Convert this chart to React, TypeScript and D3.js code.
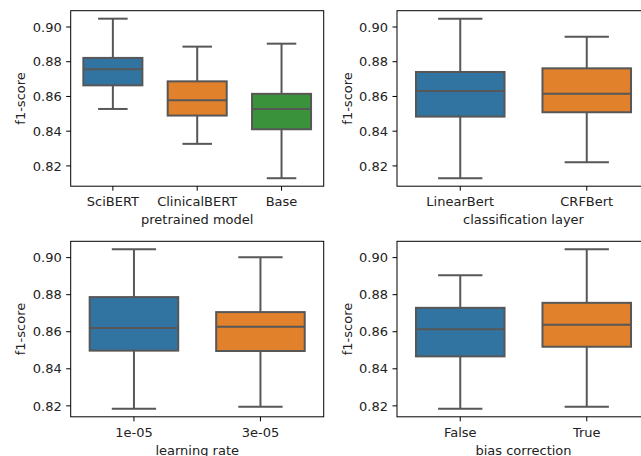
import React, { useEffect, useRef } from "react";
import * as d3 from "d3";

// five-number summaries: [lower whisker, Q1, median, Q3, upper whisker]
const modelNames = ["SciBERT", "ClinicalBERT", "Base"];
const modelStats = [
  [0.8528, 0.8664, 0.8756, 0.8822, 0.9048],
  [0.8327, 0.849, 0.8578, 0.8687, 0.8887],
  [0.8129, 0.8411, 0.8528, 0.8615, 0.8904],
];

const layerNames = ["LinearBert", "CRFBert"];
const layerStats = [
  [0.8129, 0.8484, 0.8632, 0.8741, 0.9048],
  [0.8221, 0.8509, 0.8616, 0.8762, 0.8944],
];

const lrNames = ["1e-05", "3e-05"];
const lrStats = [
  [0.8184, 0.8498, 0.862, 0.8787, 0.9045],
  [0.8195, 0.8496, 0.8627, 0.8706, 0.9002],
];

const biasNames = ["False", "True"];
const biasStats = [
  [0.8184, 0.8467, 0.8613, 0.8729, 0.8905],
  [0.8195, 0.8519, 0.8638, 0.8756, 0.9045],
];

const yTicks = [0.82, 0.84, 0.86, 0.88, 0.9];
const palette = ["#3274a1", "#e1812c", "#3a923a"];

const panels = [
  { names: modelNames, stats: modelStats, xlabel: "pretrained model", left: 70.7, top: 10.7 },
  { names: layerNames, stats: layerStats, xlabel: "classification layer", left: 397, top: 10.7 },
  { names: lrNames, stats: lrStats, xlabel: "learning rate", left: 70.7, top: 241.3 },
  { names: biasNames, stats: biasStats, xlabel: "bias correction", left: 397, top: 241.3 },
];

const App = () => {
  const ref = useRef<SVGSVGElement>(null);

  useEffect(() => {
    const svg = d3.select(ref.current);
    svg.selectAll("*").remove();

    const panelW = 253;
    const panelH = 175.5;
    const lineGray = "#575757";
    const font = "DejaVu Sans, sans-serif";

    // top row and bottom row share a y range
    const rowDomain = (a: number[][], b: number[][]) => {
      const lo = d3.min([...a, ...b], (s) => s[0]) as number;
      const hi = d3.max([...a, ...b], (s) => s[4]) as number;
      const pad = (hi - lo) * 0.05;
      return [lo - pad, hi + pad];
    };
    const topDomain = rowDomain(modelStats, layerStats);
    const bottomDomain = rowDomain(lrStats, biasStats);

    panels.forEach((p, pi) => {
      const g = svg.append("g").attr("transform", `translate(${p.left},${p.top})`);

      const x = d3.scaleBand().domain(p.names).range([0, panelW]).padding(0);
      const y = d3
        .scaleLinear()
        .domain(pi < 2 ? topDomain : bottomDomain)
        .range([panelH, 0]);

      const boxW = x.bandwidth() * 0.7;
      const capW = boxW / 2;

      p.names.forEach((name, i) => {
        const [lo, q1, med, q3, hi] = p.stats[i];
        const cx = (x(name) as number) + x.bandwidth() / 2;

        // whiskers
        g.append("line")
          .attr("x1", cx).attr("x2", cx)
          .attr("y1", y(lo)).attr("y2", y(q1))
          .attr("stroke", lineGray).attr("stroke-width", 2);
        g.append("line")
          .attr("x1", cx).attr("x2", cx)
          .attr("y1", y(q3)).attr("y2", y(hi))
          .attr("stroke", lineGray).attr("stroke-width", 2);
        // caps
        [lo, hi].forEach((v) => {
          g.append("line")
            .attr("x1", cx - capW / 2).attr("x2", cx + capW / 2)
            .attr("y1", y(v)).attr("y2", y(v))
            .attr("stroke", lineGray).attr("stroke-width", 2);
        });
        // box
        g.append("rect")
          .attr("x", cx - boxW / 2)
          .attr("y", y(q3))
          .attr("width", boxW)
          .attr("height", y(q1) - y(q3))
          .attr("fill", palette[i])
          .attr("stroke", lineGray)
          .attr("stroke-width", 2);
        // median
        g.append("line")
          .attr("x1", cx - boxW / 2).attr("x2", cx + boxW / 2)
          .attr("y1", y(med)).attr("y2", y(med))
          .attr("stroke", lineGray).attr("stroke-width", 2);
      });

      // frame
      g.append("rect")
        .attr("x", 0).attr("y", 0)
        .attr("width", panelW).attr("height", panelH)
        .attr("fill", "none")
        .attr("stroke", "#000")
        .attr("stroke-width", 1);

      // y axis
      const yAxis = g.append("g");
      yTicks.forEach((t) => {
        yAxis.append("line")
          .attr("x1", -4.5).attr("x2", 0)
          .attr("y1", y(t)).attr("y2", y(t))
          .attr("stroke", "#000").attr("stroke-width", 1);
        yAxis.append("text")
          .attr("x", -9)
          .attr("y", y(t))
          .attr("dy", "0.36em")
          .attr("text-anchor", "end")
          .attr("font-family", font)
          .attr("font-size", 13)
          .attr("fill", "#222")
          .text(d3.format(".2f")(t));
      });
      g.append("text")
        .attr("transform", `translate(${-45.5},${panelH / 2}) rotate(-90)`)
        .attr("text-anchor", "middle")
        .attr("font-family", font)
        .attr("font-size", 13)
        .attr("fill", "#222")
        .text("f1-score");

      // x axis
      p.names.forEach((name) => {
        const cx = (x(name) as number) + x.bandwidth() / 2;
        g.append("line")
          .attr("x1", cx).attr("x2", cx)
          .attr("y1", panelH).attr("y2", panelH + 4.5)
          .attr("stroke", "#000").attr("stroke-width", 1);
        g.append("text")
          .attr("x", cx)
          .attr("y", panelH + 20)
          .attr("text-anchor", "middle")
          .attr("font-family", font)
          .attr("font-size", 13)
          .attr("fill", "#222")
          .text(name);
      });
      g.append("text")
        .attr("x", panelW / 2)
        .attr("y", panelH + 38)
        .attr("text-anchor", "middle")
        .attr("font-family", font)
        .attr("font-size", 13)
        .attr("fill", "#222")
        .text(p.xlabel);
    });
  }, []);

  return (
    <svg
      ref={ref}
      width={641}
      height={456}
      style={{ position: "absolute", left: 0, top: 0, background: "#fff" }}
    ></svg>
  );
};

export default App;
